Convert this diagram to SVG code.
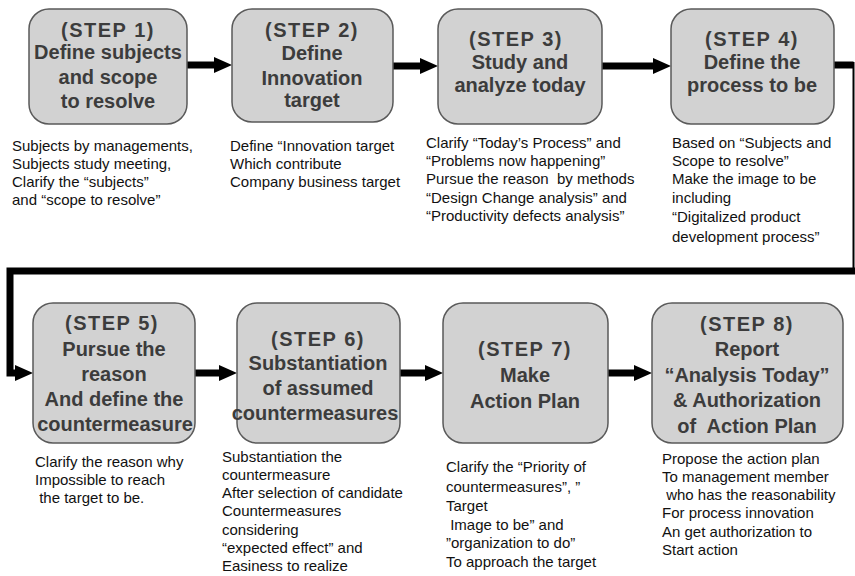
<svg xmlns="http://www.w3.org/2000/svg" width="855" height="576" viewBox="0 0 855 576">
<defs>
<style>
.box{fill:#d2d2d2;stroke:#5a5a5a;stroke-width:1.5}
.t{font-family:"Liberation Sans",Arial,sans-serif;font-weight:bold;font-size:20px;fill:#3c3c3c;text-anchor:middle;white-space:pre}
.s{letter-spacing:1.5px}
.d{font-family:"Liberation Sans",Arial,sans-serif;font-size:15px;fill:#111;white-space:pre}
.c{fill:none;stroke:#000;stroke-width:7}
</style>
<marker id="ah" viewBox="0 0 18 16" refX="2" refY="8" markerWidth="18" markerHeight="16" markerUnits="userSpaceOnUse" orient="auto">
<path d="M0,0 L18,8 L0,16 z" fill="#000"/>
</marker>
</defs>
<rect width="855" height="576" fill="#fff"/>
<g id="connectors">
<line class="c" x1="187" y1="65" x2="216" y2="65" marker-end="url(#ah)"/>
<line class="c" x1="393" y1="66" x2="422" y2="66" marker-end="url(#ah)"/>
<line class="c" x1="602" y1="66" x2="655" y2="66" marker-end="url(#ah)"/>
<polyline class="c" points="834,65 853.5,65" />
<line x1="853.5" y1="62" x2="853.5" y2="271" stroke="#000" stroke-width="2"/>
<polyline class="c" points="855,271 10,271 10,373 17,373" marker-end="url(#ah)"/>
<line class="c" x1="195" y1="373" x2="221" y2="373" marker-end="url(#ah)"/>
<line class="c" x1="400" y1="373" x2="427" y2="373" marker-end="url(#ah)"/>
<line class="c" x1="608" y1="373" x2="636" y2="373" marker-end="url(#ah)"/>
</g>
<g id="step1">
<rect class="box" x="29" y="9" width="158" height="115" rx="20"/>
<text class="t s" x="108" y="37">(STEP 1)</text>
<text class="t" x="108" y="59">Define subjects</text>
<text class="t" x="108" y="84">and scope</text>
<text class="t" x="108" y="108">to resolve</text>
<text class="d" x="12" y="151">Subjects by managements,</text>
<text class="d" x="12" y="169">Subjects study meeting,</text>
<text class="d" x="12" y="187">Clarify the “subjects”</text>
<text class="d" x="12" y="205">and “scope to resolve”</text>
</g>
<g id="step2">
<rect class="box" x="232" y="9" width="161" height="113" rx="20"/>
<text class="t s" x="312" y="37">(STEP 2)</text>
<text class="t" x="312" y="60">Define</text>
<text class="t" x="312" y="85">Innovation</text>
<text class="t" x="312" y="107">target</text>
<text class="d" x="230" y="151">Define “Innovation target</text>
<text class="d" x="230" y="169">Which contribute</text>
<text class="d" x="230" y="187">Company business target</text>
</g>
<g id="step3">
<rect class="box" x="438" y="9" width="164" height="115" rx="20"/>
<text class="t s" x="516" y="46">(STEP 3)</text>
<text class="t" x="520" y="69">Study and</text>
<text class="t" x="520" y="92">analyze today</text>
<text class="d" x="426" y="148">Clarify “Today’s Process” and</text>
<text class="d" x="426" y="166">“Problems now happening”</text>
<text class="d" x="426" y="184">Pursue the reason  by methods</text>
<text class="d" x="426" y="203">“Design Change analysis” and</text>
<text class="d" x="426" y="221">“Productivity defects analysis”</text>
</g>
<g id="step4">
<rect class="box" x="671" y="9" width="163" height="115" rx="20"/>
<text class="t s" x="752" y="46">(STEP 4)</text>
<text class="t" x="752" y="69">Define the</text>
<text class="t" x="752" y="92">process to be</text>
<text class="d" x="672" y="148">Based on “Subjects and</text>
<text class="d" x="672" y="166">Scope to resolve”</text>
<text class="d" x="672" y="184">Make the image to be</text>
<text class="d" x="672" y="203">including</text>
<text class="d" x="672" y="222">“Digitalized product</text>
<text class="d" x="672" y="242">development process”</text>
</g>
<g id="step5">
<rect class="box" x="33" y="303" width="162" height="140" rx="20"/>
<text class="t s" x="112" y="330">(STEP 5)</text>
<text class="t" x="114" y="356">Pursue the</text>
<text class="t" x="114" y="381">reason</text>
<text class="t" x="114" y="406">And define the</text>
<text class="t" x="115" y="431">countermeasure</text>
<text class="d" x="35" y="467">Clarify the reason why</text>
<text class="d" x="35" y="485">Impossible to reach</text>
<text class="d" x="35" y="503"> the target to be.</text>
</g>
<g id="step6">
<rect class="box" x="237" y="303" width="163" height="140" rx="20"/>
<text class="t s" x="318" y="346">(STEP 6)</text>
<text class="t" x="318" y="370">Substantiation</text>
<text class="t" x="318" y="395">of assumed</text>
<text class="t" x="315" y="420">countermeasures</text>
<text class="d" x="222" y="462">Substantiation the</text>
<text class="d" x="222" y="480">countermeasure</text>
<text class="d" x="222" y="498">After selection of candidate</text>
<text class="d" x="222" y="516">Countermeasures</text>
<text class="d" x="222" y="535">considering</text>
<text class="d" x="222" y="553">“expected effect” and</text>
<text class="d" x="222" y="571">Easiness to realize</text>
</g>
<g id="step7">
<rect class="box" x="443" y="303" width="165" height="140" rx="20"/>
<text class="t s" x="525" y="356">(STEP 7)</text>
<text class="t" x="525" y="382">Make</text>
<text class="t" x="525" y="408">Action Plan</text>
<text class="d" x="446" y="472">Clarify the “Priority of</text>
<text class="d" x="446" y="492">countermeasures”, ”</text>
<text class="d" x="446" y="511">Target</text>
<text class="d" x="446" y="530"> Image to be” and</text>
<text class="d" x="446" y="548">”organization to do”</text>
<text class="d" x="446" y="567">To approach the target</text>
</g>
<g id="step8">
<rect class="box" x="652" y="303" width="191" height="140" rx="20"/>
<text class="t s" x="747" y="331">(STEP 8)</text>
<text class="t" x="747" y="356">Report</text>
<text class="t" x="747" y="382">“Analysis Today”</text>
<text class="t" x="747" y="407">&amp; Authorization</text>
<text class="t" x="747" y="433">of  Action Plan</text>
<text class="d" x="662" y="464">Propose the action plan</text>
<text class="d" x="662" y="482">To management member</text>
<text class="d" x="662" y="500"> who has the reasonability</text>
<text class="d" x="662" y="518">For process innovation</text>
<text class="d" x="662" y="537">An get authorization to</text>
<text class="d" x="662" y="555">Start action</text>
</g>
</svg>
